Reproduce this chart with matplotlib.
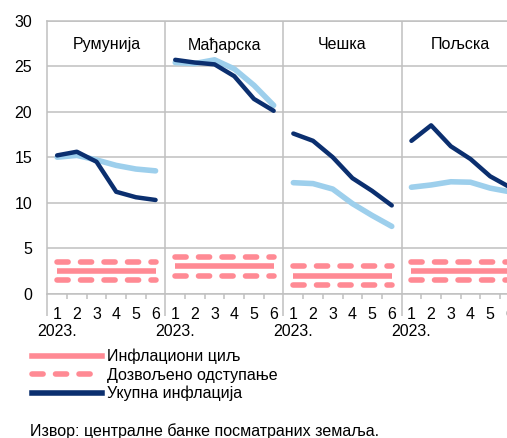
import matplotlib
matplotlib.use("Agg")
import matplotlib.pyplot as plt
from matplotlib.lines import Line2D

plt.rcParams['font.family'] = ['Liberation Sans', 'DejaVu Sans']

# data
countries = ['Румунија', 'Мађарска', 'Чешка', 'Пољска']
months = ['1', '2', '3', '4', '5', '6']
year_label = '2023.'
total_infl = [
    [15.2, 15.6, 14.5, 11.2, 10.6, 10.3],
    [25.7, 25.4, 25.2, 23.9, 21.4, 20.1],
    [17.6, 16.8, 15.0, 12.7, 11.3, 9.7],
    [16.8, 18.5, 16.2, 14.8, 12.9, 11.7],
]
core_infl = [
    [15.0, 15.2, 14.7, 14.1, 13.7, 13.5],
    [25.4, 25.3, 25.7, 24.7, 22.9, 20.7],
    [12.2, 12.1, 11.5, 9.9, 8.6, 7.4],
    [11.7, 11.95, 12.3, 12.25, 11.6, 11.2],
]
targets = [2.5, 3.0, 2.0, 2.5]
tolerance = 1.0

dark = '#0B2F6F'
light = '#9DCFEC'
pink = '#FF8A94'
grid = '#C0C0C0'
fs = 11.5
dash = (2.0, 2.23)

fig = plt.figure(figsize=(5.07, 4.38), dpi=100)
ax = fig.add_axes([47.3 / 507, 144.3 / 438, 472.4 / 507, 273 / 438])

n = len(months)
for i, c in enumerate(countries):
    xs = [i * n + k + 0.5 for k in range(n)]
    t = targets[i]
    ax.plot(xs, [t] * n, color=pink, lw=4.0, solid_capstyle='butt', zorder=3)
    for off in (-tolerance, tolerance):
        ax.plot(xs, [t + off] * n, color=pink, lw=4.0, dashes=dash,
                dash_capstyle='round', zorder=3)
    ax.plot(xs, core_infl[i], color=light, lw=4.0, solid_capstyle='round',
            solid_joinstyle='round', zorder=4)
    ax.plot(xs, total_infl[i], color=dark, lw=3.2, solid_capstyle='round',
            solid_joinstyle='round', zorder=5)
    ax.text(i * n + n / 2, 27.35, c, ha='center', va='center', fontsize=fs)
    for k, m in enumerate(months):
        ax.text(xs[k], -2.3, m, ha='center', va='center', fontsize=fs)
    ax.text(xs[0], -4.15, year_label, ha='center', va='center', fontsize=fs)

ax.set_xlim(0, n * len(countries))
ax.set_ylim(0, 30)
ax.set_yticks(range(0, 31, 5))
ax.tick_params(axis='y', length=0, labelsize=fs, pad=11)
ax.grid(axis='y', color=grid, lw=1.1)
ax.set_axisbelow(True)

ax.set_xticks([i * n for i in range(len(countries) + 1)])
ax.set_xticks([x for x in range(n * len(countries)) if x % n != 0], minor=True)
ax.tick_params(axis='x', which='major', length=16, width=1.1, color=grid,
               labelbottom=False)
ax.tick_params(axis='x', which='minor', length=3.6, width=1.1, color=grid)
for x in range(n, n * len(countries), n):
    ax.axvline(x, color=grid, lw=1.1, zorder=1)

for s in ['left', 'bottom', 'top']:
    ax.spines[s].set_color(grid)
    ax.spines[s].set_linewidth(1.1)
ax.spines['right'].set_visible(False)

fig.text(13 / 507, 1.0 + 3 / 438, '(у %, међугодишње)', fontsize=10,
         ha='left', va='baseline')

handles = [
    Line2D([], [], color=pink, lw=4.0),
    Line2D([], [], color=pink, lw=4.0, dashes=dash, dash_capstyle='round'),
    Line2D([], [], color=dark, lw=4.0),
]
labels = ['Инфлациони циљ', 'Дозвољено одступање', 'Укупна инфлација']
fig.legend(handles, labels, loc='upper left', bbox_to_anchor=(24 / 507, 1 - 341 / 438),
           frameon=False, fontsize=fs, handlelength=4.4, handletextpad=0.3,
           labelspacing=0.2, borderpad=0)

fig.text(30 / 507, 1 - 431 / 438, 'Извор: централне банке посматраних земаља.',
         fontsize=fs, ha='left', va='center')

fig.savefig('out.png', dpi=100)
